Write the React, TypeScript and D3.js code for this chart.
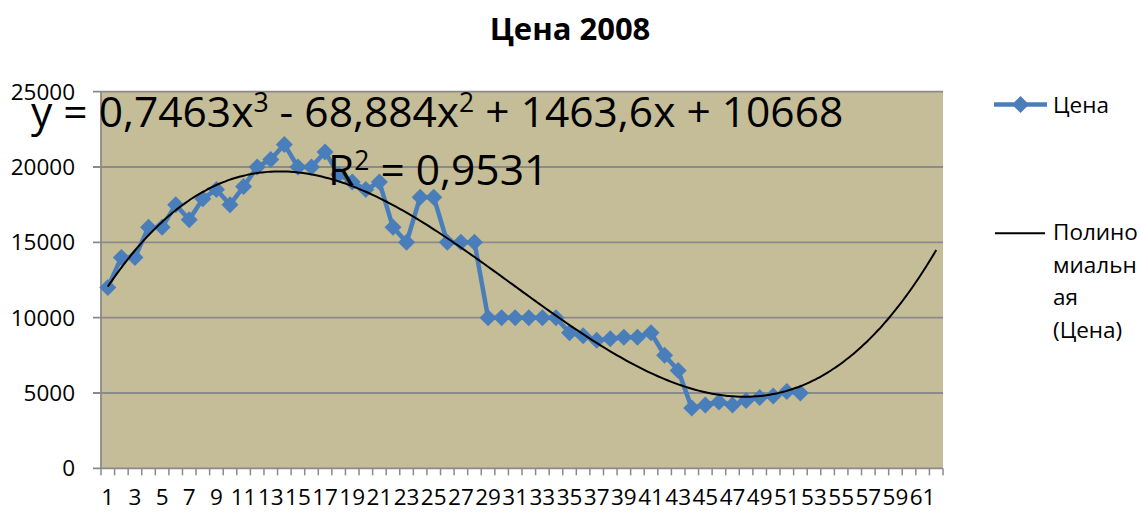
import React from "react";
import * as d3 from "d3";

const categories: number[] = d3.range(1, 63);
const priceValues: number[] = [
  12000, 14000, 14000, 16000, 16000, 17500, 16500, 17900, 18500, 17500,
  18700, 20000, 20500, 21500, 20000, 20000, 21000, 19500, 19000, 18500,
  19000, 16000, 15000, 18000, 18000, 15000, 15000, 15000, 10000, 10000,
  10000, 10000, 10000, 10000, 9000, 8800, 8500, 8600, 8700, 8700,
  9000, 7500, 6500, 4000, 4200, 4400, 4200, 4500, 4700, 4800,
  5100, 5000,
];
const trendCoefficients: number[] = [0.7463, -68.884, 1463.6, 10668]; // x^3, x^2, x, const
const yTicks: number[] = [0, 5000, 10000, 15000, 20000, 25000];
const xLabelCategories: number[] = d3.range(1, 63, 2);
const title = "Цена 2008";
const seriesName = "Цена";
const trendNameLines: string[] = ["Полино", "миальн", "ая", "(Цена)"];

const W = 1140;
const H = 513;
const PL = 101;
const PR = 943;
const PT = 91.7;
const PB = 468.3;
const FONT = "'Open Sans', 'Noto Sans', sans-serif";
const BLUE = "#4A7EBB";
const GRID = "#8A8A8A";

export default function App() {
  const x = d3.scaleBand<number>().domain(categories).range([PL, PR]).padding(0);
  const bw = x.bandwidth();
  const cx = (c: number) => (x(c) as number) + bw / 2;
  const y = d3.scaleLinear().domain([0, 25000]).range([PB, PT]);

  const pts = priceValues.map((v, i) => ({ c: i + 1, v }));
  const line = d3
    .line<{ c: number; v: number }>()
    .x((d) => cx(d.c))
    .y((d) => y(d.v));

  const poly = (t: number) =>
    trendCoefficients.reduce((acc, k) => acc * t + k, 0);
  const trendPts = categories.flatMap((c) =>
    c < categories[categories.length - 1]
      ? d3.range(0, 1, 0.25).map((f) => c + f)
      : [c]
  );
  const trendLine = d3
    .line<number>()
    .x((t) => cx(1) + (t - 1) * bw)
    .y((t) => y(poly(t)))
    .curve(d3.curveMonotoneX);

  const diamond = (px: number, py: number, r: number) =>
    `M${px},${py - r}L${px + r},${py}L${px},${py + r}L${px - r},${py}Z`;

  const boundaries = d3.range(0, categories.length + 1).map((i) => PL + i * bw);

  return (
    <svg
      width={W}
      height={H}
      style={{ position: "absolute", left: 0, top: 0, background: "#fff" }}
      fontFamily={FONT}
    >
      <rect x={0} y={0} width={W} height={H} fill="#fff" />
      <text x={570} y={40} textAnchor="middle" fontWeight="bold" fontSize={31}>
        {title}
      </text>

      <rect x={PL} y={PT} width={PR - PL} height={PB - PT} fill="#C4BD97" />
      {yTicks.map((t) => (
        <line key={"g" + t} x1={PL - 8} x2={PR} y1={y(t)} y2={y(t)} stroke={GRID} strokeWidth={1.8} />
      ))}
      <line x1={PL} x2={PL} y1={PT} y2={PB} stroke={GRID} strokeWidth={1.8} />
      {boundaries.map((bx, i) => (
        <line key={"xt" + i} x1={bx} x2={bx} y1={PB} y2={PB + 7} stroke={GRID} strokeWidth={1.5} />
      ))}
      {yTicks.map((t) => (
        <text key={"yl" + t} x={75} y={y(t) + 8} textAnchor="end" fontSize={22.5} fill="#000">
          {t}
        </text>
      ))}
      {xLabelCategories.map((c) => (
        <text key={"xl" + c} x={cx(c)} y={505} textAnchor="middle" fontSize={22.5} fill="#000">
          {c}
        </text>
      ))}

      <path d={line(pts) || ""} fill="none" stroke={BLUE} strokeWidth={4.5} strokeLinejoin="round" />
      {pts.map((d) => (
        <path key={"m" + d.c} d={diamond(cx(d.c), y(d.v), 8.5)} fill={BLUE} />
      ))}
      <path d={trendLine(trendPts) || ""} fill="none" stroke="#000" strokeWidth={2} />

      <text x={31} y={127} fontSize={42.5} fill="#000">
        <tspan>y = 0,7463x</tspan>
        <tspan fontSize={26.5} dy={-15}>3</tspan>
        <tspan dy={15}> - 68,884x</tspan>
        <tspan fontSize={26.5} dy={-15}>2</tspan>
        <tspan dy={15}> + 1463,6x + 10668</tspan>
      </text>
      <text x={328} y={184.5} fontSize={42.5} fill="#000">
        <tspan>R</tspan>
        <tspan fontSize={26.5} dy={-15}>2</tspan>
        <tspan dy={15}> = 0,9531</tspan>
      </text>

      <line x1={994} x2={1047} y1={104.5} y2={104.5} stroke={BLUE} strokeWidth={4.5} />
      <path d={diamond(1020.5, 104.5, 8.5)} fill={BLUE} />
      <text x={1053} y={112.7} fontSize={22.5} fill="#000">
        {seriesName}
      </text>
      <line x1={995} x2={1045} y1={233.3} y2={233.3} stroke="#000" strokeWidth={2} />
      {trendNameLines.map((s, i) => (
        <text key={"tl" + i} x={1053} y={240 + i * 32.7} fontSize={22.5} fill="#000">
          {s}
        </text>
      ))}
    </svg>
  );
}
